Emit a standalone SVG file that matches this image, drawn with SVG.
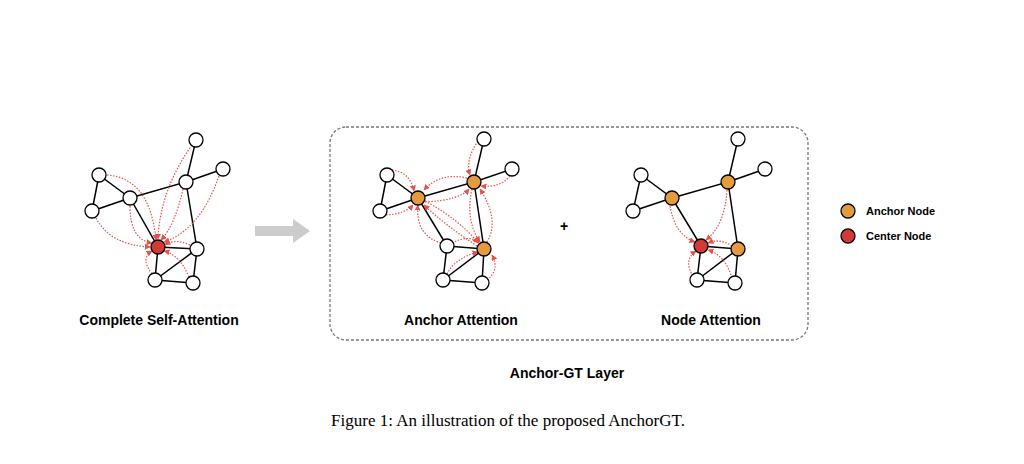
<svg xmlns="http://www.w3.org/2000/svg" width="1024" height="464" viewBox="0 0 1024 464">
<style>
.n{fill:#fff;stroke:#000;stroke-width:1.3}
.a{fill:#e49a3f;stroke:#000;stroke-width:1.3}
.c{fill:#d23a33;stroke:#000;stroke-width:1.3}
.e{stroke:#000;stroke-width:1.5;fill:none}
.r{stroke:#e8504a;stroke-width:1.2;stroke-dasharray:1.5 1.5;fill:none;marker-end:url(#m)}
.t{font-family:"Liberation Sans",Arial,sans-serif;font-weight:bold;font-size:14px;text-anchor:middle}
</style>
<defs>
<marker id="m" viewBox="0 0 10 10" refX="9" refY="5" markerWidth="5" markerHeight="5" orient="auto"><path d="M0,0L10,5L0,10z" fill="#e8504a"/></marker>
</defs>
<rect width="1024" height="464" fill="#fff"/>
<g id="connectors">
<path class="e" d="M99,175L92,211L130,198L99,175M130,198L186,182L196,140M186,182L223,169M130,198L158,247L197,249L186,182M158,247L155,280L193,283L197,249L155,280"/>
<path class="r" d="M107,175Q150,178 156,240"/>
<path class="r" d="M96,218Q110,245 150,247"/>
<path class="r" d="M130,206Q130,240 152,243"/>
<path class="r" d="M192,145Q160,190 158,239"/>
<path class="r" d="M219,176Q200,230 164,242"/>
<path class="r" d="M183,189Q175,225 161,240"/>
<path class="r" d="M190,245Q175,238 165,245"/>
<path class="r" d="M152,274Q140,258 152,251"/>
<path class="r" d="M189,277Q180,255 164,251"/>
<path class="e" d="M387,175L380,211L418,198L387,175M418,198L474,182L484,139M474,182L512,169M418,198L447,246L484,249L474,182M447,246L443,280L482,283L484,249L443,280"/>
<path class="r" d="M392,170Q410,172 414,191"/>
<path class="r" d="M386,215Q405,214 413,205"/>
<path class="r" d="M478,141Q465,160 470,175"/>
<path class="r" d="M510,176Q500,188 481,186"/>
<path class="r" d="M467,178Q440,172 424,190"/>
<path class="r" d="M425,202Q460,200 469,189"/>
<path class="r" d="M425,201Q460,220 478,243"/>
<path class="r" d="M477,246Q445,225 424,205"/>
<path class="r" d="M441,243Q415,235 418,205"/>
<path class="r" d="M472,189Q465,220 480,242"/>
<path class="r" d="M487,242Q500,220 480,189"/>
<path class="r" d="M452,243Q470,234 479,243"/>
<path class="r" d="M447,274Q455,258 478,252"/>
<path class="r" d="M487,280Q500,270 492,255"/>
<path class="e" d="M641,175L633,211L672,198L641,175M672,198L728,182L738,139M728,182L765,169M672,198L701,246L738,249L728,182M701,246L697,280L735,283L738,249L697,280"/>
<path class="r" d="M670,206Q675,235 695,242"/>
<path class="r" d="M727,190Q725,225 706,240"/>
<path class="r" d="M732,246Q720,238 708,243"/>
<path class="r" d="M693,276Q683,260 696,251"/>
<path class="r" d="M732,278Q725,255 708,250"/>
</g>
<g id="graph1">
<circle class="n" cx="196" cy="140" r="7"/><circle class="n" cx="223" cy="169" r="7"/><circle class="n" cx="186" cy="182" r="7"/><circle class="n" cx="99" cy="175" r="7"/><circle class="n" cx="92" cy="211" r="7"/><circle class="n" cx="130" cy="198" r="7"/><circle class="c" cx="158" cy="247" r="7"/><circle class="n" cx="197" cy="249" r="7"/><circle class="n" cx="155" cy="280" r="7"/><circle class="n" cx="193" cy="283" r="7"/>
</g>
<g id="graph2">
<circle class="n" cx="484" cy="139" r="7"/><circle class="n" cx="512" cy="169" r="7"/><circle class="a" cx="474" cy="182" r="7"/><circle class="n" cx="387" cy="175" r="7"/><circle class="n" cx="380" cy="211" r="7"/><circle class="a" cx="418" cy="198" r="7"/><circle class="n" cx="447" cy="246" r="7"/><circle class="a" cx="484" cy="249" r="7"/><circle class="n" cx="443" cy="280" r="7"/><circle class="n" cx="482" cy="283" r="7"/>
</g>
<g id="graph3">
<circle class="n" cx="738" cy="139" r="7"/><circle class="n" cx="765" cy="169" r="7"/><circle class="a" cx="728" cy="182" r="7"/><circle class="n" cx="641" cy="175" r="7"/><circle class="n" cx="633" cy="211" r="7"/><circle class="a" cx="672" cy="198" r="7"/><circle class="c" cx="701" cy="246" r="7"/><circle class="a" cx="738" cy="249" r="7"/><circle class="n" cx="697" cy="280" r="7"/><circle class="n" cx="735" cy="283" r="7"/>
</g>
<g id="layer-box"><rect x="330" y="127" width="478" height="213" rx="16" fill="none" stroke="#777" stroke-width="1.3" stroke-dasharray="3 2"/></g>
<g id="arrow"><path d="M255,226H293V219L310,231L293,243V236H255Z" fill="#ccc"/></g>
<text class="t" x="159" y="325">Complete Self-Attention</text>
<text class="t" x="461" y="325">Anchor Attention</text>
<text class="t" x="711" y="325">Node Attention</text>
<text x="564" y="231" class="t" font-size="18">+</text>
<text class="t" x="567" y="378">Anchor-GT Layer</text>
<g id="legend">
<circle class="a" cx="848" cy="211" r="7"/><circle class="c" cx="848" cy="236" r="7"/>
<text x="866" y="215" font-family="Liberation Sans,Arial,sans-serif" font-weight="bold" font-size="11">Anchor Node</text>
<text x="866" y="240" font-family="Liberation Sans,Arial,sans-serif" font-weight="bold" font-size="11">Center Node</text>
</g>
<text x="508" y="426" font-family="Liberation Serif,Times New Roman,serif" font-size="17" text-anchor="middle">Figure 1: An illustration of the proposed AnchorGT.</text>
</svg>
